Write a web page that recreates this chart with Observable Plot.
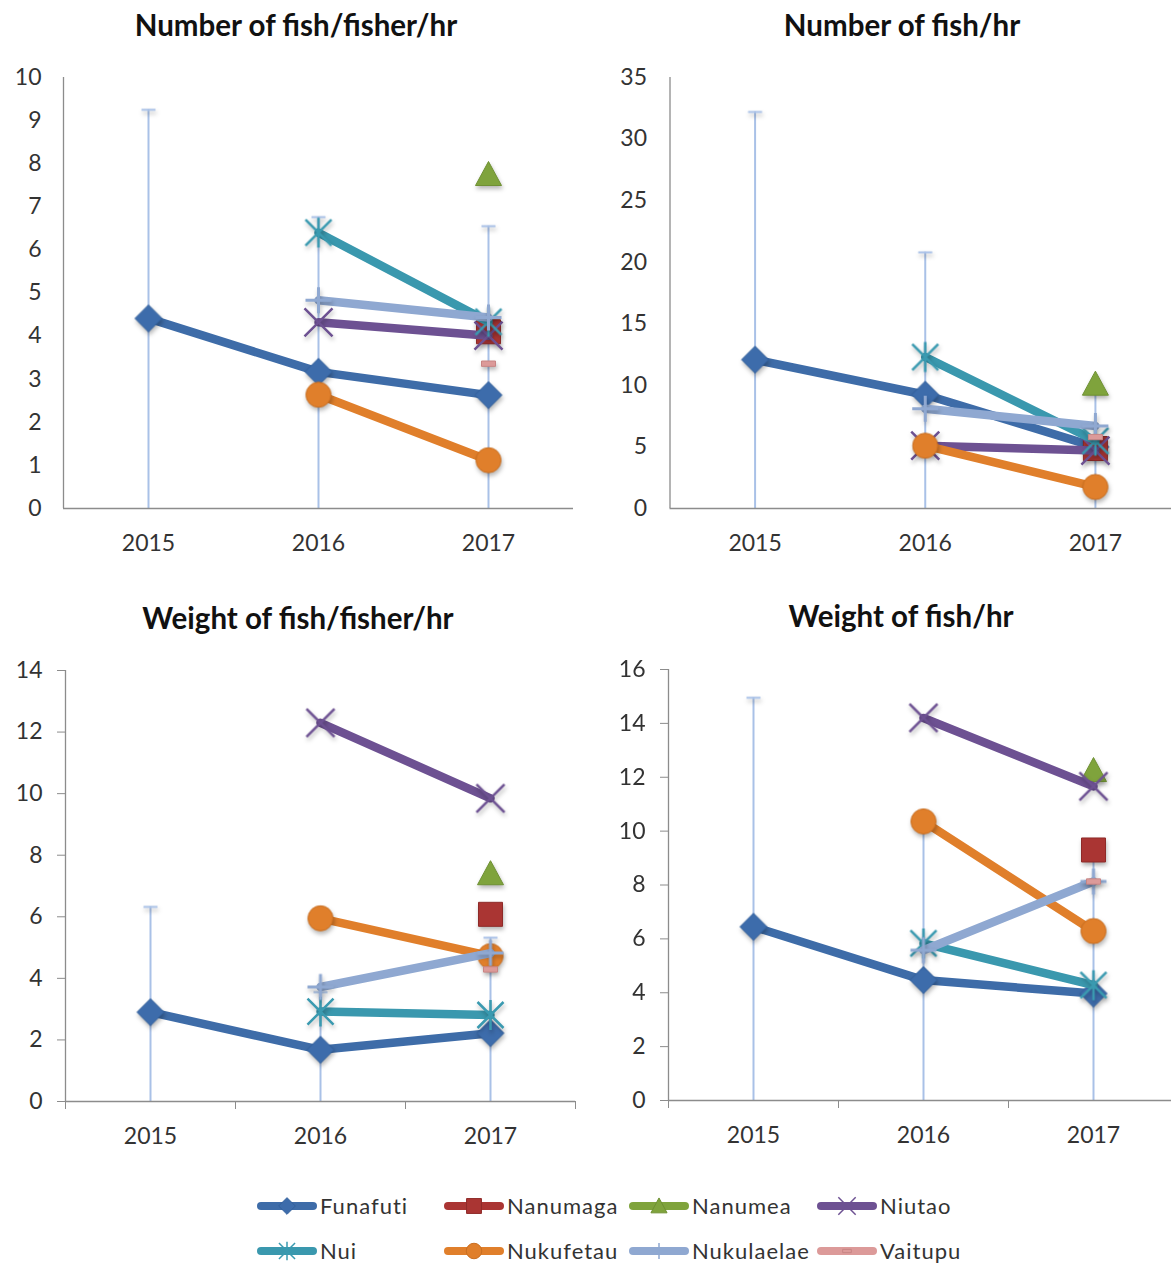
<!DOCTYPE html>
<html><head><meta charset="utf-8">
<script src="https://cdn.jsdelivr.net/npm/d3@7"></script>
<script src="https://cdn.jsdelivr.net/npm/@observablehq/plot@0.6"></script>
<style>
html,body{margin:0;padding:0;background:#fff;overflow:hidden;}
#root{position:relative;width:1171px;height:1265px;overflow:hidden;font-family:Lato,"Open Sans",sans-serif;background:#fff;}
.title{position:absolute;font-weight:bold;font-size:29.5px;color:#111;text-align:center;white-space:nowrap;line-height:1;}
.panel{position:absolute;}
.legend-item{position:absolute;display:flex;align-items:center;font-size:22px;color:#333;letter-spacing:1px;white-space:nowrap;line-height:1;}
.legend-item svg{display:block;margin-right:2px;}
g[aria-label="dot"]{filter:drop-shadow(1px 3px 2px rgba(0,0,0,0.28));}
</style></head><body><div id="root"></div>
<script>
// ---------- data ----------
const years = ["2015", "2016", "2017"];
const islands = ["Funafuti", "Nanumaga", "Nanumea", "Niutao", "Nui", "Nukufetau", "Nukulaelae", "Vaitupu"];
const colors = ["#3e6ca8", "#aa3533", "#7fa33c", "#6d5192", "#3a98ae", "#e07f2b", "#8fa8d1", "#dc9a99"];

// rows follow `islands`, columns follow `years`
const numFishFisherHr = [
  [4.41, 3.17, 2.63],
  [null, null, 4.10],
  [null, null, 7.75],
  [null, 4.32, 4.01],
  [null, 6.40, 4.33],
  [null, 2.64, 1.12],
  [null, 4.83, 4.43],
  [null, null, 3.36]
];
const numFishFisherHrErrTop = [9.25, 6.76, 6.55];

const numFishHr = [
  [12.08, 9.24, 5.0],
  [null, null, 4.87],
  [null, null, 10.1],
  [null, 5.1, 4.7],
  [null, 12.3, 5.5],
  [null, 5.1, 1.75],
  [null, 8.1, 6.7],
  [null, null, 5.8]
];
const numFishHrErrTop = [32.2, 20.8, 9.6];

const weightFisherHr = [
  [2.90, 1.68, 2.22],
  [null, null, 6.08],
  [null, null, 7.40],
  [null, 12.30, 9.85],
  [null, 2.92, 2.81],
  [null, 5.95, 4.72],
  [null, 3.72, 4.82],
  [null, null, 4.29]
];
const weightFisherHrErrTop = [6.32, 3.55, 5.32];

const weightHr = [
  [6.45, 4.47, 3.97],
  [null, null, 9.30],
  [null, null, 12.25],
  [null, 14.20, 11.66],
  [null, 5.83, 4.28],
  [null, 10.36, 6.29],
  [null, 5.58, 8.13],
  [null, null, 8.13]
];
const weightHrErrTop = [14.95, 10.2, 9.0];

const titles = ["Number of fish/fisher/hr", "Number of fish/hr", "Weight of fish/fisher/hr", "Weight of fish/hr"];

// ---------- symbols ----------
const rad = s => Math.sqrt(s / Math.PI);
const sym = {
  diamond: {draw(c, s) { const r = rad(s); c.moveTo(0, -r); c.lineTo(r, 0); c.lineTo(0, r); c.lineTo(-r, 0); c.closePath(); }},
  square: {draw(c, s) { const r = rad(s); c.rect(-r, -r, 2 * r, 2 * r); }},
  triangle: {draw(c, s) { const r = rad(s); c.moveTo(0, -r); c.lineTo(r, r * 0.85); c.lineTo(-r, r * 0.85); c.closePath(); }},
  times: {draw(c, s) { const r = rad(s); c.moveTo(-r, -r); c.lineTo(r, r); c.moveTo(r, -r); c.lineTo(-r, r); }},
  asterisk: {draw(c, s) { const r = rad(s); c.moveTo(-r, -r); c.lineTo(r, r); c.moveTo(r, -r); c.lineTo(-r, r); c.moveTo(0, -r * 1.15); c.lineTo(0, r * 1.15); }},
  circle: {draw(c, s) { const r = rad(s); c.moveTo(r, 0); c.arc(0, 0, r, 0, 2 * Math.PI); }},
  plus: {draw(c, s) { const r = rad(s); c.moveTo(0, -r); c.lineTo(0, r); c.moveTo(-r, 0); c.lineTo(r, 0); }},
  dash: {draw(c, s) { const r = rad(s); c.rect(-r, -r * 0.38, 2 * r, r * 0.76); }},
  cap: {draw(c, s) { const r = rad(s); c.moveTo(-r, 0); c.lineTo(r, 0); }}
};
const markerStyle = [
  {symbol: sym.diamond, r: 13.5, fill: "#3d6cab", stroke: "#32609c", strokeWidth: 1},
  {symbol: sym.square, r: 12, fill: "#aa3533", stroke: "#8e2a28", strokeWidth: 1},
  {symbol: sym.triangle, r: 13, fill: "#7fa33c", stroke: "#6e9032", strokeWidth: 1},
  {symbol: sym.times, r: 14, fill: "none", stroke: "#6d5192", strokeWidth: 2.5},
  {symbol: sym.asterisk, r: 13, fill: "none", stroke: "#3a9ab0", strokeWidth: 2.5},
  {symbol: sym.circle, r: 12.5, fill: "#e07f2b", stroke: "#c96e20", strokeWidth: 1},
  {symbol: sym.plus, r: 13, fill: "none", stroke: "#8fa8d1", strokeWidth: 3},
  {symbol: sym.dash, r: 7, fill: "#dc9a99", stroke: "#c88584", strokeWidth: 1}
];

function tidy(matrix) {
  const out = [];
  matrix.forEach((row, k) => row.forEach((v, i) => {
    if (v != null) out.push({island: islands[k], i, value: v});
  }));
  return out;
}

const root = document.getElementById("root");

function panel({matrix, errTop, yMax, step, left, top, width, height, mL, mR, mT, mB, yTickSize, xTicks, yPad}) {
  const data = tidy(matrix);
  const err = errTop.map((v, i) => ({i, top: v}));
  const X = d => d.i + 0.5;
  const marks = [
    Plot.ruleX(err, {x: X, y1: 0, y2: "top", stroke: "#a9c1e7", strokeWidth: 2}),
    Plot.dot(err, {x: X, y: "top", symbol: sym.cap, r: 7, fill: "none", stroke: "#a9c1e7", strokeWidth: 2}),
    Plot.ruleX([0], {stroke: "#8c8c8c", strokeWidth: 1.3}),
    Plot.ruleY([0], {stroke: "#8c8c8c", strokeWidth: 1.3}),
    Plot.axisY({ticks: d3.range(0, yMax + step / 2, step), tickSize: yTickSize, tickPadding: yPad,
      stroke: "#8c8c8c", fill: "#333", fontSize: 23, label: null}),
    Plot.axisX({ticks: years.map((y, i) => i + 0.5), tickFormat: d => years[Math.round(d - 0.5)],
      tickSize: 0, tickPadding: 26, fill: "#333", fontSize: 23, label: null})
  ];
  if (xTicks) marks.push(Plot.axisX({ticks: d3.range(0, years.length + 1), tickFormat: () => "",
    tickSize: 8, stroke: "#8c8c8c", label: null}));
  islands.forEach((name, k) => {
    const rows = data.filter(d => d.island === name);
    if (rows.length > 1) marks.push(Plot.line(rows, {x: X, y: "value", stroke: colors[k], strokeWidth: 8.5,
      strokeLinejoin: "round", strokeLinecap: "round"}));
    const m = markerStyle[k];
    marks.push(Plot.dot(rows, {x: X, y: "value", symbol: m.symbol, r: m.r, fill: m.fill, stroke: m.stroke, strokeWidth: m.strokeWidth}));
  });
  const svg = Plot.plot({
    width, height, marginLeft: mL, marginRight: mR, marginTop: mT, marginBottom: mB,
    style: {overflow: "visible", maxWidth: "none", background: "transparent", fontFamily: "Lato, 'Open Sans', sans-serif"},
    x: {type: "linear", domain: [0, years.length], axis: null},
    y: {domain: [0, yMax], axis: null},
    marks
  });
  const wrap = document.createElement("div");
  wrap.className = "panel";
  wrap.style.left = left + "px";
  wrap.style.top = top + "px";
  wrap.appendChild(svg);
  root.appendChild(wrap);
}

panel({matrix: numFishFisherHr, errTop: numFishFisherHrErrTop, yMax: 10, step: 1,
  left: 0, top: 50, width: 590, height: 530, mL: 63, mR: 17, mT: 27, mB: 72, yTickSize: 0, yPad: 22, xTicks: false});
panel({matrix: numFishHr, errTop: numFishHrErrTop, yMax: 35, step: 5,
  left: 590, top: 50, width: 600, height: 530, mL: 79.5, mR: 10, mT: 27, mB: 72, yTickSize: 0, yPad: 23, xTicks: false});
panel({matrix: weightFisherHr, errTop: weightFisherHrErrTop, yMax: 14, step: 2,
  left: 0, top: 645, width: 590, height: 530, mL: 65, mR: 15, mT: 25, mB: 74, yTickSize: 8, yPad: 15, xTicks: true});
panel({matrix: weightHr, errTop: weightHrErrTop, yMax: 16, step: 2,
  left: 590, top: 645, width: 600, height: 530, mL: 78, mR: 12, mT: 24, mB: 75, yTickSize: 8, yPad: 15, xTicks: true});

// titles
[[296, 25], [902, 25], [298, 618], [901, 616]].forEach(([cx, cy], k) => {
  const t = document.createElement("div");
  t.className = "title";
  t.textContent = titles[k];
  t.style.left = (cx - 250) + "px";
  t.style.width = "500px";
  t.style.top = (cy - 15) + "px";
  root.appendChild(t);
});

// legend
const legendPos = [[256, 1206], [443, 1206], [628, 1206], [816, 1206], [256, 1251], [443, 1251], [628, 1251], [816, 1251]];
islands.forEach((name, k) => {
  const item = document.createElement("div");
  item.className = "legend-item";
  item.style.left = legendPos[k][0] + "px";
  item.style.top = (legendPos[k][1] - 12) + "px";
  item.style.height = "24px";
  const ns = "http://www.w3.org/2000/svg";
  const s = document.createElementNS(ns, "svg");
  s.setAttribute("width", 62); s.setAttribute("height", 24);
  const ln = document.createElementNS(ns, "line");
  ln.setAttribute("x1", 5); ln.setAttribute("x2", 57); ln.setAttribute("y1", 12); ln.setAttribute("y2", 12);
  ln.setAttribute("stroke", colors[k]); ln.setAttribute("stroke-width", 8); ln.setAttribute("stroke-linecap", "round");
  s.appendChild(ln);
  const m = markerStyle[k];
  const p = d3.path();
  const rr = m.r * 0.62;
  m.symbol.draw(p, Math.PI * rr * rr);
  const path = document.createElementNS(ns, "path");
  path.setAttribute("d", p.toString());
  path.setAttribute("transform", "translate(31,12)");
  path.setAttribute("fill", m.fill); path.setAttribute("stroke", m.stroke);
  path.setAttribute("stroke-width", Math.min(m.strokeWidth, 1.5));
  s.appendChild(path);
  item.appendChild(s);
  const span = document.createElement("span");
  span.textContent = name;
  item.appendChild(span);
  root.appendChild(item);
});
</script>
</body></html>
